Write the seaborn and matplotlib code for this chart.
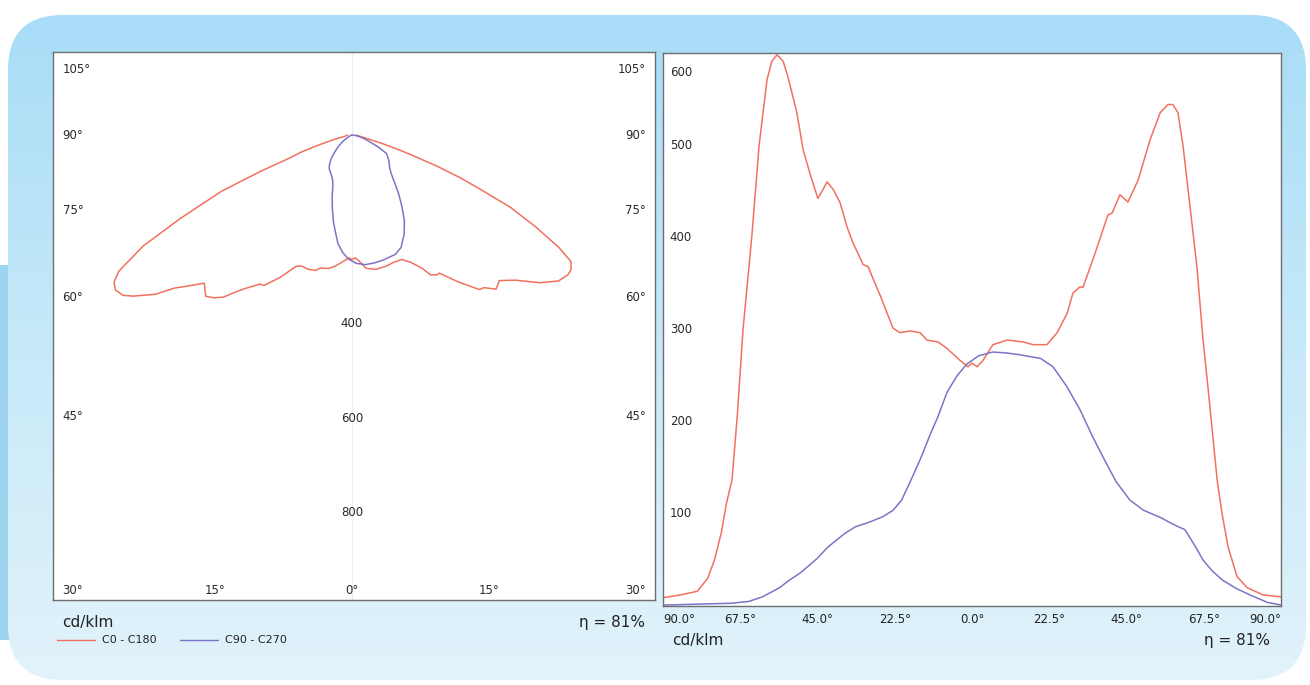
import numpy as np
import pandas as pd
import seaborn as sns
import matplotlib.pyplot as plt
from matplotlib.patches import FancyBboxPatch, Rectangle

# photometric data (angle in degrees, cd/klm)
c0_angles = [-90, -85, -80, -77, -75, -73, -71.5, -69.9, -68.3, -66.7, -64.1, -62, -59.7,
             -58.3, -56.8, -55, -53.6, -51, -49.2, -47.2, -44.9, -43.5, -42.2, -40.3, -38.4,
             -36.4, -34.7, -31.7, -30.3, -26.8, -23, -21, -18, -15.1, -13.1, -9.9, -7.3,
             -3.5, -1.2, 0, 1.5, 3.2, 6.1, 10.2, 14.9, 17.8, 21.8, 24.8, 27.7, 29.4, 31.5,
             32.3, 36, 39.6, 40.8, 43.1, 45.4, 48.4, 51.9, 54.8, 57.1, 58.5, 60, 61.5, 63.5,
             65.5, 67.3, 68.5, 70, 71.4, 72.8, 74.6, 77.2, 80.1, 84.8, 90]
c0_values = [9, 12, 16, 30, 50, 80, 112, 137, 210, 300, 403, 501, 572,
             592, 599, 592, 575, 536, 496, 470, 443, 452, 461, 452, 438,
             412, 395, 371, 369, 338, 302, 297, 299, 297, 289, 287, 280,
             267, 260, 264, 260, 267, 284, 289, 287, 284, 284, 297, 318, 340, 347,
             346, 385, 425, 427, 447, 439, 463, 507, 536, 545, 545, 536, 499, 434,
             369, 289, 246, 190, 137, 101, 64, 32, 20, 12, 10]

c90_angles = [-90, -80, -70, -65, -61, -56, -53.6, -50, -47.8, -45, -42, -39, -37, -34,
              -30, -26, -23, -20.5, -18, -15, -12, -10, -7.3, -4.4, -1.5, 2, 6, 10, 14,
              20, 23.6, 27.7, 31.5, 35, 38.7, 42, 46, 50, 55, 59, 62, 65, 67.3, 70, 73,
              77, 81, 86, 90]
c90_values = [1, 2, 3, 5, 10, 20, 27, 36, 43, 52, 64, 73, 79, 86,
              91, 97, 104, 115, 135, 160, 188, 205, 232, 250, 263, 272, 276, 275, 273,
              269, 260, 238, 213, 185, 158, 135, 115, 104, 96, 88, 83, 65, 50, 38, 28,
              19, 12, 4, 1]

series_names = ['C0 - C180', 'C90 - C270']
colors = ['#f2705e', '#7c74c6']
x_ticks = [-90, -67.5, -45, -22.5, 0, 22.5, 45, 67.5, 90]
y_ticks = [100, 200, 300, 400, 500, 600]
radial_ticks = [400, 600, 800]
efficiency = 81

df = pd.concat([
    pd.DataFrame({'angle': c0_angles, 'cd': c0_values, 'curve': series_names[0]}),
    pd.DataFrame({'angle': c90_angles, 'cd': c90_values, 'curve': series_names[1]}),
], ignore_index=True)
# polar coordinates with nadir pointing down
rad = np.deg2rad(df['angle'])
df['px'] = df['cd'] * np.sin(rad)
df['py'] = -df['cd'] * np.cos(rad)

sns.set_style('white')
plt.rcParams['font.family'] = ['DejaVu Sans']

W, H = 1310, 685
fig = plt.figure(figsize=(W / 100, H / 100), dpi=100)
fig.patch.set_facecolor('white')

# rounded light-blue panel behind everything
bg = fig.add_axes([0, 0, 1, 1], zorder=-10)
bg.set_xlim(0, W)
bg.set_ylim(H, 0)
bg.axis('off')
bg.add_patch(Rectangle((0, 265), 30, 375, color='#9dd5f1', lw=0, zorder=0))
panel = FancyBboxPatch((8, 15), W - 12, H - 20, boxstyle='round,pad=0,rounding_size=55',
                       fc='none', ec='none')
bg.add_patch(panel)
grad = np.linspace(0, 1, 256).reshape(-1, 1)
img = bg.imshow(grad, extent=[0, W, H, 0], aspect='auto', zorder=2,
                cmap=sns.blend_palette(['#a7dcf7', '#c6e9f9', '#e2f3fb'], as_cmap=True))
img.set_clip_path(panel)

palette = dict(zip(series_names, colors))
spine_col = '#6e6e6e'
txt_col = '#2a2a2a'

# ---------------- left: polar diagram ----------------
ax1 = fig.add_axes([53 / W, 1 - 600 / H, 602 / W, 548 / H])
ax1.set_facecolor('white')
sns.lineplot(data=df, x='px', y='py', hue='curve', palette=palette, sort=False,
             estimator=None, lw=1.1, legend=False, ax=ax1)
ax1.set_xlim(-633, 642)
ax1.set_ylim(-985, 176)
ax1.set_aspect('equal', adjustable='box')
ax1.axvline(0, color='#ececec', lw=0.8, zorder=0)
ax1.set_xticks([])
ax1.set_yticks([])
ax1.set_xlabel('')
ax1.set_ylabel('')
for s in ax1.spines.values():
    s.set_color(spine_col)
    s.set_linewidth(1)

lab_kw = dict(fontsize=8.5, color=txt_col, va='center')
x_edge = 597
for ang in [105, 90, 75, 60, 45]:
    yy = -x_edge / np.tan(np.deg2rad(ang))
    yy = min(yy, 138)
    ax1.text(-x_edge - 16, yy, f'{ang}°', ha='left', **lab_kw)
    ax1.text(x_edge + 26, yy, f'{ang}°', ha='right', **lab_kw)
y_bot = -964
ax1.text(-x_edge - 16, y_bot, '30°', ha='left', **lab_kw)
ax1.text(x_edge + 26, y_bot, '30°', ha='right', **lab_kw)
ax1.text(-290, y_bot, '15°', ha='center', **lab_kw)
ax1.text(290, y_bot, '15°', ha='center', **lab_kw)
ax1.text(0, y_bot, '0°', ha='center', **lab_kw)
for r in radial_ticks:
    ax1.text(0, -r, str(r), ha='center', **lab_kw)

fig.text(62 / W, 1 - 622 / H, 'cd/klm', fontsize=11, color='#222222', va='center')
fig.text(645 / W, 1 - 622 / H, f'η = {efficiency}%', fontsize=11, color='#222222',
         va='center', ha='right')
leg_y = 1 - 640 / H
for i, name in enumerate(series_names):
    x0 = (57 + i * 123) / W
    fig.add_artist(plt.Line2D([x0, x0 + 38 / W], [leg_y, leg_y], color=colors[i], lw=1))
    fig.text(x0 + 45 / W, leg_y, name, fontsize=8, color='#222222', va='center')

# ---------------- right: cartesian diagram ----------------
ax2 = fig.add_axes([663 / W, 1 - 606 / H, 618 / W, 553 / H])
ax2.set_facecolor('white')
sns.lineplot(data=df, x='angle', y='cd', hue='curve', palette=palette, sort=False,
             estimator=None, lw=1.1, legend=False, ax=ax2)
ax2.set_xlim(-90, 90)
ax2.set_ylim(0, 601)
ax2.set_xlabel('')
ax2.set_ylabel('')
ax2.set_yticks([])
ax2.set_xticks(x_ticks)
ax2.set_xticklabels([f'{abs(t):.1f}°' for t in x_ticks], fontsize=8.5, color='#222222')
ax2.tick_params(axis='x', length=0, pad=5)
xl = ax2.get_xticklabels()
xl[0].set_ha('left')
xl[-1].set_ha('right')
for s in ax2.spines.values():
    s.set_color(spine_col)
    s.set_linewidth(1)
for v in y_ticks:
    ax2.text(-88, min(v, 580), str(v), fontsize=8.5, color=txt_col, va='center', ha='left')

fig.text(672 / W, 1 - 640 / H, 'cd/klm', fontsize=11, color='#222222', va='center')
fig.text(1270 / W, 1 - 640 / H, f'η = {efficiency}%', fontsize=11, color='#222222',
         va='center', ha='right')

fig.savefig('out.png', dpi=100, facecolor=fig.get_facecolor())
